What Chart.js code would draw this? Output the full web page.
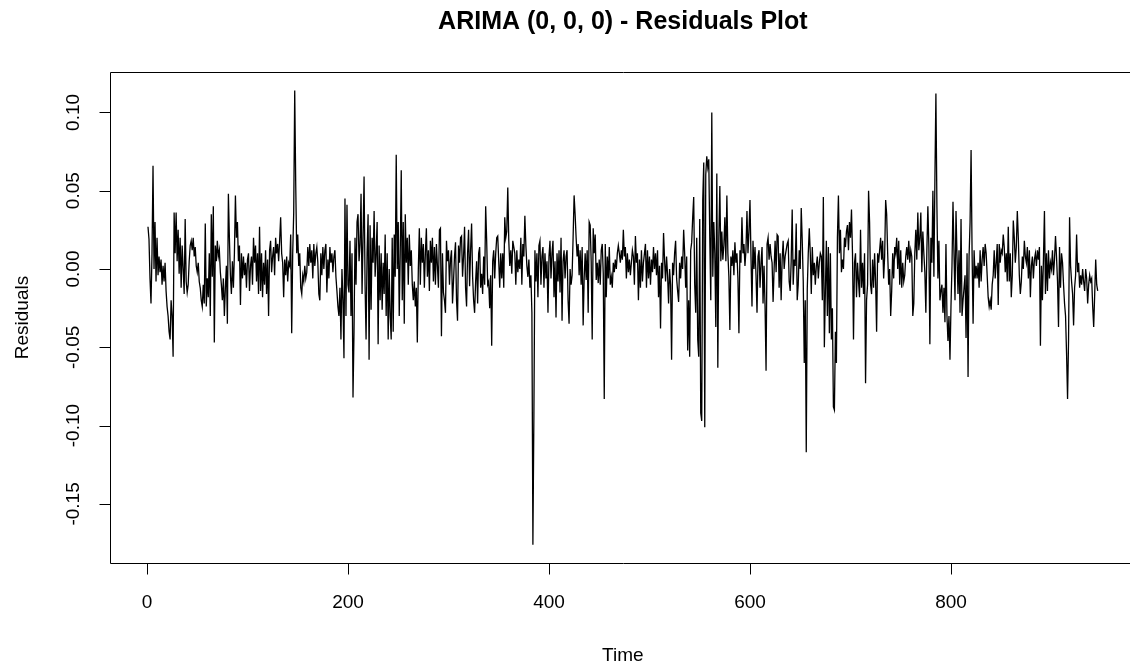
<!DOCTYPE html>
<html>
<head>
<meta charset="utf-8">
<script src="https://cdn.jsdelivr.net/npm/chart.js@4.4.1/dist/chart.umd.min.js"></script>
<style>
  html, body { margin: 0; padding: 0; background: #fff; overflow: hidden; }
  #wrap { width: 1140px; height: 671px; }
</style>
</head>
<body>
<div id="wrap"><canvas id="c" width="1140" height="671"></canvas></div>
<script>
const chartTitle = 'ARIMA (0, 0, 0) - Residuals Plot';
const xLabel = 'Time';
const yLabel = 'Residuals';
const xTicks = [0, 200, 400, 600, 800];
const yTicks = [-0.15, -0.10, -0.05, 0.00, 0.05, 0.10];

// residuals, one per time step (t = 1 .. 946)
const residuals = [
  0.027, 0.019, -0.006, -0.022, 0.010, 0.066, 0.000, 0.030, -0.008, 0.020, -0.004, 0.008, -0.002, 0.006, -0.010, 0.002, -0.008, 0.004, -0.014, -0.024,
  -0.030, -0.040, -0.045, -0.020, -0.030, -0.056, 0.036, 0.010, 0.036, 0.005, 0.025, -0.003, 0.020, -0.012, 0.015, 0.000, -0.016, 0.032, -0.008, -0.015,
  -0.010, 0.005, 0.015, 0.018, 0.012, 0.020, 0.008, 0.014, 0.002, -0.002, 0.004, -0.008, -0.012, -0.020, -0.024, -0.010, -0.022, 0.029, -0.024, -0.006,
  -0.018, 0.010, -0.030, 0.035, -0.005, 0.040, -0.047, 0.015, 0.005, 0.018, 0.008, 0.012, -0.002, -0.010, -0.020, -0.006, -0.030, -0.012, 0.002, -0.035,
  0.048, 0.020, -0.004, -0.016, 0.005, -0.012, 0.010, 0.047, 0.020, 0.030, 0.005, 0.015, -0.023, 0.010, -0.006, 0.008, -0.004, 0.004, -0.012, 0.006,
  0.010,
  -0.014, 0.002, 0.008, -0.010, 0.020, 0.004, 0.015, -0.008, 0.010, -0.016, 0.027, -0.014, 0.010, -0.018, 0.004, -0.010, 0.012, -0.016, 0.006, -0.030,
  0.012, 0.018, -0.002, 0.008, 0.014, -0.004, 0.020, 0.010, 0.016, 0.005, 0.018, 0.033, 0.010, 0.004, -0.018, 0.006, -0.004, 0.008, -0.008, 0.004,
  0.002, 0.022, -0.041, 0.010, 0.036, 0.114, 0.054, 0.010, 0.022, 0.002, 0.010, -0.012, -0.016, -0.004, -0.008, 0.002, -0.006, -0.002, 0.014, 0.002,
  0.016, 0.004, 0.012, -0.006, 0.016, 0.002, 0.010, 0.014, 0.004, -0.016, -0.020, 0.010, -0.004, 0.014, 0.000, 0.012, 0.016, -0.015, 0.006, -0.006,
  0.014, 0.004, 0.010, -0.002, 0.008, 0.012, -0.005, -0.014, -0.024, -0.030, -0.012, -0.045, 0.000, -0.020, -0.057, 0.045, -0.030, 0.041, -0.010, -0.015,
  0.018, -0.030, 0.010, -0.082, -0.040, 0.020, -0.010, 0.030, 0.035, 0.005, 0.016, 0.048, -0.016, 0.020, 0.059, -0.010, -0.045, 0.010, 0.035, -0.058,
  0.028, -0.026, 0.020, 0.004, 0.037, -0.005, 0.010, 0.030, -0.048, 0.015, -0.020, 0.010, -0.026, 0.004, -0.016, 0.022, -0.030, 0.010, -0.045, 0.000,
  -0.030, -0.045, 0.020, -0.040, 0.022, -0.005, 0.073, 0.000, 0.030, -0.030, 0.010, 0.063, -0.020, 0.030, -0.035, 0.035, 0.004, 0.020, -0.010, 0.022,
  0.002, 0.012, -0.010, -0.020, -0.008, -0.024, -0.012, -0.047, 0.000, 0.026, -0.010, 0.020, 0.004, 0.016, -0.012, 0.010, 0.026, -0.005, 0.012, -0.014,
  0.018, 0.004, 0.020, -0.008, 0.014, -0.010, 0.016, 0.002, -0.012, 0.025, 0.026, -0.043, 0.010, -0.015, -0.020, -0.028, 0.018, 0.005, 0.012, -0.010,
  0.006,
  0.012, -0.022, -0.008, 0.008, 0.017, -0.020, -0.033, 0.015, 0.004, 0.020, 0.021, -0.005, 0.008, 0.027, -0.012, -0.024, 0.010, 0.025, -0.011, 0.012,
  0.029, -0.005, -0.020, -0.028, -0.008, 0.005, -0.022, 0.010, 0.014, -0.012, -0.003, -0.016, 0.008, -0.010, 0.040, 0.018, -0.010, -0.008, -0.025, -0.004,
  -0.049, 0.005, 0.012, -0.006, 0.010, 0.020, 0.021, 0.005, -0.012, 0.010, -0.006, 0.010, -0.012, 0.033, 0.020, 0.024, 0.052, 0.018, 0.002, 0.012,
  -0.003, 0.018, 0.014, 0.010, -0.010, 0.012, -0.002, 0.006, 0.000, 0.020, -0.010, 0.016, 0.008, 0.034, 0.015, 0.002, -0.005, 0.006, -0.012, -0.004,
  -0.028, -0.176, -0.092, 0.012, -0.008, 0.010, -0.018, 0.015, 0.018, -0.010, 0.008, 0.014, -0.012, 0.010, -0.006, 0.005, -0.028, 0.008, 0.018, -0.006,
  0.010, 0.018, -0.018, 0.005, -0.031, 0.010, -0.008, 0.012, -0.015, 0.020, -0.033, 0.005, 0.012, -0.006, 0.008, 0.012, -0.020, -0.035, 0.000, -0.010,
  -0.004, 0.020, 0.047, 0.035, 0.020, 0.008, 0.016, -0.004, 0.012, -0.010, 0.014, -0.036, -0.006, 0.010, -0.007, 0.012, -0.028, 0.030, 0.028, 0.005,
  -0.045, 0.026, 0.010, 0.022, -0.007, 0.004, -0.009, 0.006, -0.010, 0.012, 0.016, -0.003, -0.083, 0.016, -0.018, 0.008, -0.006, 0.014, -0.010, -0.005,
  -0.012, 0.004, -0.002, 0.006, 0.000, 0.010, 0.015, 0.010, 0.004, 0.012, 0.006, 0.025, 0.008, 0.014, -0.006, 0.010, -0.002, 0.006, -0.004, 0.004,
  0.012, 0.008, -0.010, 0.021, 0.004, 0.010, -0.020, 0.006, -0.012, 0.012, -0.008, 0.004, 0.010, 0.016, -0.012, 0.012, -0.006, 0.008, -0.010, 0.006,
  -0.002,
  0.014, 0.000, 0.010, -0.004, 0.012, -0.018, 0.002, -0.038, 0.004, -0.006, 0.023, 0.006, -0.008, 0.008, -0.004, -0.022, 0.000, -0.010, -0.058, 0.004,
  -0.004, 0.010, 0.018, -0.006, -0.014, -0.021, 0.004, -0.006, 0.008, 0.000, 0.025, 0.010, -0.012, 0.008, -0.052, -0.020, -0.056, 0.012, 0.017, 0.033,
  0.046, -0.010, -0.028, 0.020, -0.045, -0.056, 0.032, -0.092, -0.097, 0.044, 0.068, -0.101, 0.060, 0.072, 0.065, 0.070, 0.020, -0.020, 0.100, -0.005,
  0.030, 0.010, -0.037, 0.061, -0.063, 0.020, 0.053, 0.005, 0.024, 0.006, 0.015, 0.033, 0.005, 0.047, 0.010, -0.005, -0.039, 0.008, 0.002, 0.012,
  -0.004, 0.017, 0.004, 0.010, -0.006, -0.041, 0.012, 0.004, 0.033, 0.010, 0.016, 0.002, 0.012, 0.037, 0.010, 0.024, 0.044, 0.008, -0.024, 0.018,
  0.000, 0.014, -0.004, -0.028, 0.008, 0.012, -0.012, 0.004, 0.014, -0.022, 0.002, -0.024, -0.065, 0.016, 0.020, 0.006, 0.016, 0.008, 0.004, -0.021,
  0.000, 0.018, -0.002, 0.022, 0.021, -0.012, 0.010, -0.020, 0.006, 0.018, 0.000, 0.008, 0.012, 0.016, 0.018, -0.008, -0.014, 0.005, 0.038, -0.010,
  0.006, 0.002, 0.029, -0.020, -0.010, 0.012, 0.000, 0.039, 0.018, -0.008, -0.060, -0.020, -0.117, -0.013, 0.010, 0.026, 0.010, -0.016, 0.014, -0.004,
  0.004, -0.010, 0.002, 0.008, -0.006, 0.004, 0.010, 0.008, -0.020, 0.046, -0.050, -0.015, 0.018, -0.030, 0.014, -0.041, 0.010, -0.045, -0.025, -0.088,
  -0.090, -0.040, -0.060, 0.020, 0.047, 0.010, 0.025, -0.002, 0.006, 0.000, 0.020, 0.014, 0.024, 0.028, 0.012, 0.030, 0.020, 0.038, 0.010, -0.045,
  0.004,
  0.010, -0.018, 0.004, -0.008, -0.018, 0.025, -0.012, 0.004, -0.016, 0.010, -0.073, -0.020, -0.010, 0.050, 0.030, -0.010, -0.016, 0.006, -0.012, 0.010,
  -0.008, -0.040, 0.010, 0.004, 0.012, 0.020, 0.006, 0.018, -0.006, 0.008, 0.044, 0.035, 0.010, -0.010, 0.000, -0.030, -0.014, 0.010, -0.006, 0.014,
  0.010, 0.020, 0.000, 0.018, -0.010, 0.012, -0.012, 0.004, -0.008, -0.004, 0.008, 0.014, 0.006, 0.018, 0.004, 0.012, 0.008, -0.030, -0.022, 0.010,
  0.025, 0.006, 0.036, 0.012, 0.020, 0.036, -0.002, 0.024, 0.010, -0.002, -0.028, 0.012, 0.040, 0.014, -0.048, 0.020, 0.004, 0.050, -0.005, 0.057,
  0.112, 0.040, -0.006, 0.018, -0.020, -0.014, -0.010, -0.028, -0.012, -0.034, 0.016, -0.030, -0.046, -0.030, -0.058, -0.024, 0.002, 0.043, 0.010, -0.020,
  0.037, 0.008, -0.016, 0.012, -0.028, 0.032, -0.030, -0.020, -0.012, -0.004, -0.044, 0.010, -0.069, 0.008, 0.030, 0.076, 0.010, -0.035, 0.012, -0.006,
  0.002, -0.006, 0.004, -0.012, 0.012, -0.008, 0.006, 0.014, 0.002, 0.016, 0.010, -0.004, -0.018, -0.024, -0.020, -0.026, -0.010, -0.004, 0.012, -0.006,
  0.004, 0.016, -0.023, 0.016, 0.004, 0.012, 0.010, 0.022, 0.014, -0.002, 0.010, -0.008, 0.027, -0.008, 0.010, -0.018, -0.004, 0.031, 0.020, 0.004,
  0.014, 0.037, 0.020, -0.004, -0.016, -0.008, 0.008, 0.000, 0.018, 0.008, 0.004, 0.014, -0.006, 0.012, -0.018, 0.002, 0.008, -0.006, 0.006, 0.010,
  0.002, 0.012, 0.006, 0.014, -0.049, 0.002, -0.020, 0.006, 0.037, -0.016, 0.010, -0.014, 0.012, -0.006, 0.004, 0.000, 0.012, -0.004, 0.006, 0.021,
  0.008,
  -0.008, -0.037, 0.014, -0.012, 0.010, 0.004, -0.010, -0.022, -0.030, -0.054, -0.083, -0.045, 0.033, 0.002, -0.008, -0.016, -0.036, -0.012, -0.004, 0.022,
  -0.002, 0.004, -0.012, -0.004, -0.010, 0.000, -0.008, -0.014, 0.000, -0.006, -0.022, -0.010, -0.004, -0.008, -0.006, -0.024, -0.037, -0.016, 0.006, -0.010, -0.014
];

// R's default axis range: data range stretched 4% on each side
const n = residuals.length;
const yLo = Math.min(...residuals), yHi = Math.max(...residuals);
const xPad = (n - 1) * 0.04, yPad = (yHi - yLo) * 0.04;

const FONT = '"Liberation Sans", Arial, sans-serif';

// draws the R-style frame, ticks and labels from the chart's own scales
const rStyleAxes = {
  id: 'rStyleAxes',
  afterDraw(chart) {
    const { ctx, chartArea: a } = chart;
    const xs = chart.scales.x, ys = chart.scales.y;
    ctx.save();
    ctx.strokeStyle = '#000';
    ctx.fillStyle = '#000';
    ctx.lineWidth = 1;

    const L = Math.round(a.left) + 0.5, T = Math.round(a.top) + 0.5;
    const B = Math.round(a.bottom) + 0.5, R = Math.round(a.right) + 0.5;
    ctx.beginPath();
    ctx.rect(L, T, R - L, B - T);
    ctx.stroke();

    ctx.beginPath();
    xTicks.forEach(v => {
      const px = Math.round(xs.getPixelForValue(v)) + 0.5;
      ctx.moveTo(px, B); ctx.lineTo(px, B + 11);
    });
    yTicks.forEach(v => {
      const py = Math.round(ys.getPixelForValue(v)) + 0.5;
      ctx.moveTo(L, py); ctx.lineTo(L - 11, py);
    });
    ctx.stroke();

    ctx.font = '19px ' + FONT;
    ctx.textAlign = 'center';
    ctx.textBaseline = 'middle';
    xTicks.forEach(v => ctx.fillText(String(v), xs.getPixelForValue(v), B + 39));
    yTicks.forEach(v => {
      ctx.save();
      ctx.translate(L - 37, ys.getPixelForValue(v));
      ctx.rotate(-Math.PI / 2);
      ctx.fillText(v.toFixed(2), 0, 0);
      ctx.restore();
    });

    const cx = (a.left + a.right) / 2, cy = (a.top + a.bottom) / 2;
    ctx.fillText(xLabel, cx, B + 92);
    ctx.save();
    ctx.translate(L - 88, cy);
    ctx.rotate(-Math.PI / 2);
    ctx.fillText(yLabel, 0, 0);
    ctx.restore();

    ctx.font = 'bold 25px ' + FONT;
    ctx.fillText(chartTitle, cx, T - 50);
    ctx.restore();
  }
};

new Chart(document.getElementById('c'), {
  type: 'line',
  data: {
    datasets: [{
      data: residuals.map((v, i) => ({ x: i + 1, y: v })),
      borderColor: '#000',
      borderWidth: 1.3,
      pointRadius: 0,
      tension: 0,
      fill: false
    }]
  },
  options: {
    responsive: false,
    animation: false,
    layout: { padding: { left: 110, top: 72.3, right: 4.3, bottom: 108.2 } },
    scales: {
      x: { type: 'linear', display: false, min: 1 - xPad, max: n + xPad },
      y: { type: 'linear', display: false, min: yLo - yPad, max: yHi + yPad }
    },
    plugins: { legend: { display: false }, tooltip: { enabled: false } }
  },
  plugins: [rStyleAxes]
});
</script>
</body>
</html>
